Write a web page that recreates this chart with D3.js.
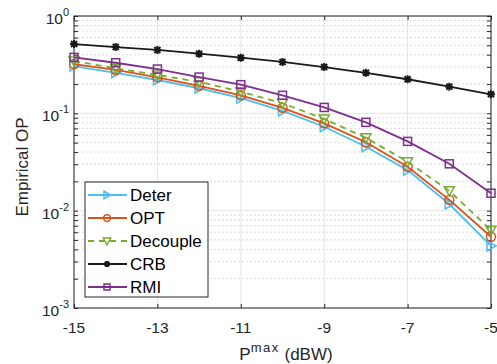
<!DOCTYPE html>
<html>
<head>
<meta charset="utf-8">
<script src="https://cdn.jsdelivr.net/npm/d3@7"></script>
<style>
  body { margin: 0; background: #fff; }
  svg { font-family: "Liberation Sans", Arial, sans-serif; }
</style>
</head>
<body>
<svg id="chart" width="497" height="364"></svg>
<script>
// x values (Pmax in dBW)
const pmax = [-15, -14, -13, -12, -11, -10, -9, -8, -7, -6, -5];
const xTicks = [-15, -13, -11, -9, -7, -5];
const yTicks = [1e-3, 1e-2, 1e-1, 1e0];

// series values
const deter = [0.306, 0.261, 0.220, 0.181, 0.143, 0.106, 0.0728, 0.0454, 0.0261, 0.0117, 0.00435];
const opt = [0.321, 0.279, 0.234, 0.192, 0.153, 0.114, 0.0789, 0.0504, 0.0283, 0.0129, 0.0054];
const decouple = [0.345, 0.290, 0.248, 0.211, 0.167, 0.127, 0.0874, 0.0561, 0.0318, 0.0160, 0.0063];
const crb = [0.515, 0.480, 0.448, 0.410, 0.373, 0.337, 0.299, 0.261, 0.224, 0.188, 0.157];
const rmi = [0.376, 0.331, 0.285, 0.236, 0.197, 0.153, 0.115, 0.0808, 0.0515, 0.0303, 0.0151];

const seriesNames = ["Deter", "OPT", "Decouple", "CRB", "RMI"];

const series = [
    { name: seriesNames[0], values: deter, color: "#4DBEEE", marker: "triRight", dash: null },
    { name: seriesNames[1], values: opt, color: "#D95319", marker: "circle", dash: null },
    { name: seriesNames[2], values: decouple, color: "#77AC30", marker: "triDown", dash: "6,5" },
    { name: seriesNames[3], values: crb, color: "#1a1a1a", marker: "star", dash: null },
    { name: seriesNames[4], values: rmi, color: "#7E2F8E", marker: "square", dash: null }
];

// Plot area
const plotLeft = 74, plotRight = 491, plotTop = 16, plotBottom = 308;

const svg = d3.select("#chart");

const x = d3.scaleLinear().domain([-15, -5]).range([plotLeft, plotRight]);
const y = d3.scaleLog().domain([1e-3, 1]).range([plotBottom, plotTop]);

// Grid lines
const grid = svg.append("g");

// minor y grid (dotted)
const minor = [];
[1e-3, 1e-2, 1e-1].forEach(d => {
    for (let k = 2; k <= 9; k++) minor.push(d * k);
});
grid.selectAll(".minor")
    .data(minor)
    .enter()
    .append("line")
    .attr("x1", plotLeft).attr("x2", plotRight)
    .attr("y1", d => y(d)).attr("y2", d => y(d))
    .attr("stroke", "#dcdcdc")
    .attr("stroke-width", 1)
    .attr("stroke-dasharray", "2,2");

// major grid
grid.selectAll(".ymajor")
    .data(yTicks)
    .enter()
    .append("line")
    .attr("x1", plotLeft).attr("x2", plotRight)
    .attr("y1", d => y(d)).attr("y2", d => y(d))
    .attr("stroke", "#e3e3e3");

grid.selectAll(".xmajor")
    .data(xTicks)
    .enter()
    .append("line")
    .attr("x1", d => x(d)).attr("x2", d => x(d))
    .attr("y1", plotTop).attr("y2", plotBottom)
    .attr("stroke", "#e3e3e3");

// Axes (ticks inward, mirrored on top and right)
svg.append("g")
    .attr("transform", `translate(0,${plotBottom})`)
    .call(d3.axisTop(x).tickValues(xTicks).tickSize(4).tickFormat(""))
    .call(g => g.select(".domain").remove());
svg.append("g")
    .attr("transform", `translate(0,${plotTop})`)
    .call(d3.axisBottom(x).tickValues(xTicks).tickSize(4).tickFormat(""))
    .call(g => g.select(".domain").remove());

const allY = yTicks.concat(minor);
svg.append("g")
    .attr("transform", `translate(${plotLeft},0)`)
    .call(d3.axisRight(y).tickValues(allY).tickSize(4).tickFormat(""))
    .call(g => g.select(".domain").remove());
svg.append("g")
    .attr("transform", `translate(${plotRight},0)`)
    .call(d3.axisLeft(y).tickValues(allY).tickSize(4).tickFormat(""))
    .call(g => g.select(".domain").remove());

svg.selectAll(".tick line").attr("stroke", "#262626");

// box
svg.append("rect")
    .attr("x", plotLeft).attr("y", plotTop)
    .attr("width", plotRight - plotLeft).attr("height", plotBottom - plotTop)
    .attr("fill", "none")
    .attr("stroke", "#262626")
    .attr("stroke-width", 1);

// x tick labels
svg.selectAll(".xlab")
    .data(xTicks)
    .enter()
    .append("text")
    .attr("x", d => x(d))
    .attr("y", plotBottom + 25)
    .attr("text-anchor", "middle")
    .style("font-size", "15.5px")
    .attr("fill", "#262626")
    .text(d => d < 0 ? "-" + Math.abs(d) : d);

// y tick labels 10^k
const ylab = svg.selectAll(".ylab")
    .data(yTicks)
    .enter()
    .append("text")
    .attr("x", plotLeft - 5)
    .attr("y", d => y(d) + 8)
    .attr("text-anchor", "end")
    .style("font-size", "15.5px")
    .attr("fill", "#262626");
ylab.append("tspan").text("10");
ylab.append("tspan")
    .attr("dy", -8)
    .style("font-size", "11px")
    .text(d => Math.round(Math.log10(d)));

// axis titles
svg.append("text")
    .attr("transform", `translate(28,167) rotate(-90)`)
    .attr("text-anchor", "middle")
    .style("font-size", "17px")
    .attr("fill", "#262626")
    .text("Empirical OP");

const xt = svg.append("text")
    .attr("x", 286)
    .attr("y", 360)
    .attr("text-anchor", "middle")
    .style("font-size", "17px")
    .attr("fill", "#262626");
xt.append("tspan").text("P");
xt.append("tspan").attr("dy", -8).style("font-size", "13px")
    .attr("letter-spacing", "1.5px").text("max");
xt.append("tspan").attr("dy", 8).text(" (dBW)");

// marker drawing helper
function drawMarker(g, type, color, k) {
    k = k || 1;
    if (type === "circle") {
        g.append("circle").attr("r", 4.5 * k)
            .attr("fill", "none").attr("stroke", color).attr("stroke-width", 1.5);
    } else if (type === "square") {
        g.append("rect").attr("x", -4 * k).attr("y", -4 * k).attr("width", 8 * k).attr("height", 8 * k)
            .attr("fill", "none").attr("stroke", color).attr("stroke-width", 1.5);
    } else if (type === "triRight") {
        g.append("path").attr("d", `M${-4 * k},${-5 * k}L${5 * k},0L${-4 * k},${5 * k}Z`)
            .attr("fill", "none").attr("stroke", color).attr("stroke-width", 1.5);
    } else if (type === "triDown") {
        g.append("path").attr("d", `M${-5 * k},${-4 * k}L${5 * k},${-4 * k}L0,${5 * k}Z`)
            .attr("fill", "none").attr("stroke", color).attr("stroke-width", 1.5);
    } else if (type === "star") {
        const a = 4 * k, b = 3 * k;
        g.append("path").attr("d", `M${-a},0L${a},0M0,${-a}L0,${a}M${-b},${-b}L${b},${b}M${-b},${b}L${b},${-b}`)
            .attr("stroke", color).attr("stroke-width", 2);
        g.append("circle").attr("r", 2.2 * k).attr("fill", color);
    }
}

// Line generator
const line = d3.line()
    .x((d, i) => x(pmax[i]))
    .y(d => y(d));

const plot = svg.append("g");

series.forEach(s => {
    plot.append("path")
        .datum(s.values)
        .attr("d", line)
        .attr("fill", "none")
        .attr("stroke", s.color)
        .attr("stroke-width", 1.8)
        .attr("stroke-dasharray", s.dash);

    plot.selectAll(null)
        .data(s.values)
        .enter()
        .append("g")
        .attr("transform", (d, i) => `translate(${x(pmax[i])},${y(d)})`)
        .each(function () { drawMarker(d3.select(this), s.marker, s.color); });
});

// Legend
const legend = svg.append("g").attr("transform", "translate(85,182)");
legend.append("rect")
    .attr("width", 123).attr("height", 115)
    .attr("fill", "#fff")
    .attr("stroke", "#262626")
    .attr("stroke-width", 1);

legend.selectAll(".legend-item")
    .data(series)
    .enter()
    .append("g")
    .attr("transform", (d, i) => `translate(0, ${13 + i * 23})`)
    .each(function (d) {
        const item = d3.select(this);
        item.append("line")
            .attr("x1", 3).attr("x2", 42)
            .attr("stroke", d.color)
            .attr("stroke-width", 1.8)
            .attr("stroke-dasharray", d.dash);
        drawMarker(item.append("g").attr("transform", "translate(22,0)"), d.marker, d.color, 0.75);
        item.append("text")
            .attr("x", 45)
            .attr("y", 6)
            .style("font-size", "17px")
            .attr("fill", "#000")
            .text(d.name);
    });
</script>
</body>
</html>
